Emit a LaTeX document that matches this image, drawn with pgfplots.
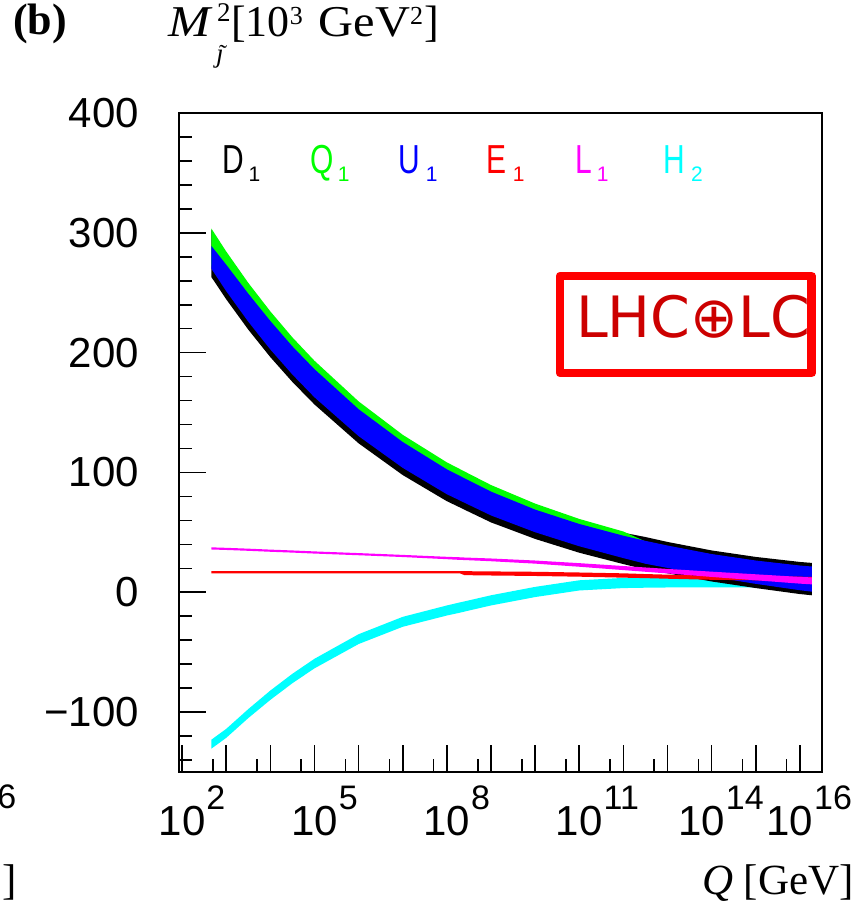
\documentclass[border=0pt]{standalone}
\usepackage{pgfplots}
\pgfplotsset{compat=1.18}
\usepackage{pgfplotstable}
\usepgfplotslibrary{fillbetween}
\usepackage{graphicx}
\usepackage{fontspec}
\setmainfont{Liberation Serif}
\newfontfamily\lsans{Liberation Sans}
\newfontfamily\dejavu{DejaVu Sans}

\definecolor{rootgreen}{RGB}{0,255,0}
\definecolor{rootblue}{RGB}{0,0,255}
\definecolor{rootred}{RGB}{255,0,0}
\definecolor{rootmagenta}{RGB}{255,0,255}
\definecolor{rootcyan}{RGB}{0,255,255}
\definecolor{lhcred}{RGB}{204,0,0}

\newcommand{\ticksize}{\lsans\fontsize{42}{42}\selectfont}
\newcommand{\expo}[1]{10\rlap{\kern1pt\raisebox{26pt}{\fontsize{34}{34}\selectfont #1}}}
\newcommand{\legfont}{\lsans\fontsize{40.5}{40.5}\selectfont}
\newcommand{\subfont}{\lsans\fontsize{21}{21}\selectfont}

% running mass parameters M^2 (10^3 GeV^2): lower / upper edge of each band
\pgfplotstableread{
Q         d1lo   d1hi   q1lo   q1hi   u1lo   u1hi   e1lo  e1hi  l1lo  l1hi  h2lo    h2hi
462       263.0  302.5  273.0  303.5  270.0  289.0  15.7  17.6  35.7  37.5  -130.5  -123.0
1e3       244.5  283.4  254.3  284.4  251.3  273.4  15.7  17.6  35.3  37.1  -121.5  -114.0
3162      219.2  257.2  228.8  258.2  225.8  249.2  15.7  17.6  34.6  36.4  -105.0  -97.5
1e4       196.2  233.4  205.6  234.4  202.6  226.4  15.7  17.6  33.8  35.6  -89.8   -82.0
31623     175.5  211.7  184.7  212.7  181.7  205.2  15.7  17.6  33.1  34.9  -75.9   -68.0
1e5       156.7  192.2  165.7  193.2  162.7  186.2  15.7  17.6  32.3  34.1  -63.5   -55.5
1e6       124.3  158.3  133.3  159.3  130.3  152.8  15.7  17.6  30.9  32.7  -43.2   -35.0
1e7       97.8   130.4  106.8  131.4  103.8  125.4  15.7  17.6  29.4  31.2  -28.8   -20.5
1e8       76.0   107.4  84.8   108.4  81.8   102.6  15.7  17.6  27.6  29.6  -19.4   -11.0
2e8       70.7   101.7  79.5   102.7  76.5   97.0   15.7  17.6  27.0  29.2  -17.0   -8.4
2.512e8   68.9   99.8   77.7   100.8  74.7   95.1   14.3  17.6  26.9  29.0  -16.1   -7.6
1e9       58.3   88.5   67.1   89.5   64.1   84.0   14.0  17.4  25.9  28.2  -11.0   -2.5
1e10      44.5   73.0   53.1   74.0   50.1   69.0   13.6  17.1  23.9  26.5  -4.0    4.5
1e11      33.0   60.2   41.4   61.2   38.4   57.0   13.0  16.5  21.3  24.3  1.5     10.0
1e12      23.5   49.7   31.5   50.7   28.5   47.2   12.2  15.8  18.5  21.9  3.5     12.0
3.162e12  19.0   46.1   26.8   42.4   23.8   42.9   11.8  15.2  17.1  20.7  3.8     12.2
1e13      15.8   42.0   23.3   38.5   20.3   39.0   11.3  14.7  15.7  19.5  4.0     12.5
1e14      9.0    34.9   16.0   31.4   13.0   31.9   10.4  13.8  12.8  17.2  4.0     12.5
1e15      3.5    29.5   10.0   26.0   7.0    26.5   10.0  13.4  10.0  15.0  4.0     12.0
1e16      -1.5   25.3   4.7    21.8   1.7    22.3   9.5   13.0  7.2   12.8  4.0     11.5
1.862e16  -2.5   24.5   3.5    21.0   0.5    21.5   9.2   12.8  6.6   12.4  4.0     11.0
}\bands

\begin{document}
\begin{tikzpicture}[x=1pt,y=1pt]
\path (0,0) rectangle (866,908);

\begin{axis}[
  at={(179pt,136pt)}, anchor=south west,
  scale only axis, width=643pt, height=659pt,
  xmode=log, log basis x=10,
  xmin=85.1, xmax=3.162e16, ymin=-150, ymax=400,
  axis line style={black, line width=1.8pt},
  tick style={black, line width=1.6pt},
  tick align=inside, xtick pos=left, ytick pos=left,
  major tick length=27pt, minor tick length=13pt,
  xtick={1e2,1e3,1e4,1e5,1e6,1e7,1e8,1e9,1e10,1e11,1e12,1e13,1e14,1e15,1e16},
  minor xtick={5e2,5e3,5e4,5e5,5e6,5e7,5e8,5e9,5e10,5e11,5e12,5e13,5e14,5e15},
  xticklabels={,,,,,,,,,,,,,,},
  extra x ticks={1e2,1e5,1e8,1e11,5.89e13,5.89e15},
  extra x tick labels={\expo{2},\expo{5},\expo{8},\expo{11},\expo{14},\expo{16}},
  extra x tick style={major tick length=0pt},
  xticklabel style={anchor=base, inner sep=0pt, yshift=-64pt},
  ytick={-100,0,100,200,300,400},
  yticklabels={−100,0,100,200,300,400},
  minor ytick={-140,-120,-80,-60,-40,-20,20,40,60,80,120,140,160,180,220,240,260,280,320,340,360,380},
  yticklabel style={anchor=east, inner sep=0pt, xshift=-40pt},
  tick label style={font=\ticksize},
]
% H2
\addplot[name path=h2lo, draw=none, forget plot] table[x=Q, y=h2lo]{\bands};
\addplot[name path=h2hi, draw=none, forget plot] table[x=Q, y=h2hi]{\bands};
\addplot[fill=rootcyan, draw=none] fill between[of=h2lo and h2hi];
% D1
\addplot[name path=d1lo, draw=none, forget plot] table[x=Q, y=d1lo]{\bands};
\addplot[name path=d1hi, draw=none, forget plot] table[x=Q, y=d1hi]{\bands};
\addplot[fill=black, draw=none] fill between[of=d1lo and d1hi];
% Q1
\addplot[name path=q1lo, draw=none, forget plot] table[x=Q, y=q1lo]{\bands};
\addplot[name path=q1hi, draw=none, forget plot] table[x=Q, y=q1hi]{\bands};
\addplot[fill=rootgreen, draw=none] fill between[of=q1lo and q1hi];
% U1
\addplot[name path=u1lo, draw=none, forget plot] table[x=Q, y=u1lo]{\bands};
\addplot[name path=u1hi, draw=none, forget plot] table[x=Q, y=u1hi]{\bands};
\addplot[fill=rootblue, draw=none] fill between[of=u1lo and u1hi];
% E1
\addplot[name path=e1lo, draw=none, forget plot] table[x=Q, y=e1lo]{\bands};
\addplot[name path=e1hi, draw=none, forget plot] table[x=Q, y=e1hi]{\bands};
\addplot[fill=rootred, draw=none] fill between[of=e1lo and e1hi];
% L1
\addplot[name path=l1lo, draw=none, forget plot] table[x=Q, y=l1lo]{\bands};
\addplot[name path=l1hi, draw=none, forget plot] table[x=Q, y=l1hi]{\bands};
\addplot[fill=rootmagenta, draw=none] fill between[of=l1lo and l1hi];
\end{axis}

% labels of the bands
\node[anchor=base west, inner sep=0, text=black] at (222,734) {\legfont\scalebox{0.74}[1]{D}};
\node[anchor=base west, inner sep=0, text=black] at (248.4,726) {\subfont 1};
\node[anchor=base west, inner sep=0, text=rootgreen] at (310.2,734) {\legfont\scalebox{0.74}[1]{Q}};
\node[anchor=base west, inner sep=0, text=rootgreen] at (337.7,726) {\subfont 1};
\node[anchor=base west, inner sep=0, text=rootblue] at (398.4,734) {\legfont\scalebox{0.74}[1]{U}};
\node[anchor=base west, inner sep=0, text=rootblue] at (425.7,726) {\subfont 1};
\node[anchor=base west, inner sep=0, text=rootred] at (486.7,734) {\legfont\scalebox{0.74}[1]{E}};
\node[anchor=base west, inner sep=0, text=rootred] at (512.7,726) {\subfont 1};
\node[anchor=base west, inner sep=0, text=rootmagenta] at (575.7,734) {\legfont\scalebox{0.74}[1]{L}};
\node[anchor=base west, inner sep=0, text=rootmagenta] at (596.7,726) {\subfont 1};
\node[anchor=base west, inner sep=0, text=rootcyan] at (663.4,734) {\legfont\scalebox{0.74}[1]{H}};
\node[anchor=base west, inner sep=0, text=rootcyan] at (691,726) {\subfont 2};

% LHC+LC tag
\draw[rootred, line width=8.7pt, line join=round] (560,632) rectangle (811.7,535);
\node[anchor=base west, inner sep=0, text=lhcred] at (576,570.7) {\dejavu\fontsize{57}{57}\selectfont LHC⊕LC};

% panel tag and axis titles
\node[anchor=base west, inner sep=0] at (13,873) {\fontsize{44}{44}\selectfont\bfseries (b)};
\node[anchor=base west, inner sep=0] at (168,871) {\fontsize{44}{44}\selectfont\itshape\scalebox{1.15}[1]{M}};
\node[anchor=base west, inner sep=0] at (217,886) {\fontsize{27}{27}\selectfont 2};
\node[anchor=base west, inner sep=0] at (216,845) {\fontsize{27}{27}\selectfont\itshape\j};
\node[anchor=base west, inner sep=0] at (219,846) {\fontsize{24}{24}\selectfont ˜};
\node[anchor=base west, inner sep=0] at (231,871) {\fontsize{44}{44}\selectfont [10\raisebox{12pt}{\fontsize{26}{26}\selectfont 3}\hspace{16pt}\scalebox{1.1}[1]{GeV}\raisebox{12pt}{\fontsize{26}{26}\selectfont 2}\kern1pt]};
\node[anchor=base east, inner sep=0] at (854,13) {\fontsize{43}{43}\selectfont{\itshape Q} [GeV]};

% edge of the neighbouring panel
\begin{pgfinterruptboundingbox}
\node[anchor=base east, inner sep=0] at (16.4,99) {\lsans\fontsize{34}{34}\selectfont 6};
\node[anchor=base east, inner sep=0] at (17,13) {\fontsize{43}{43}\selectfont ]};
\end{pgfinterruptboundingbox}
\end{tikzpicture}
\end{document}
